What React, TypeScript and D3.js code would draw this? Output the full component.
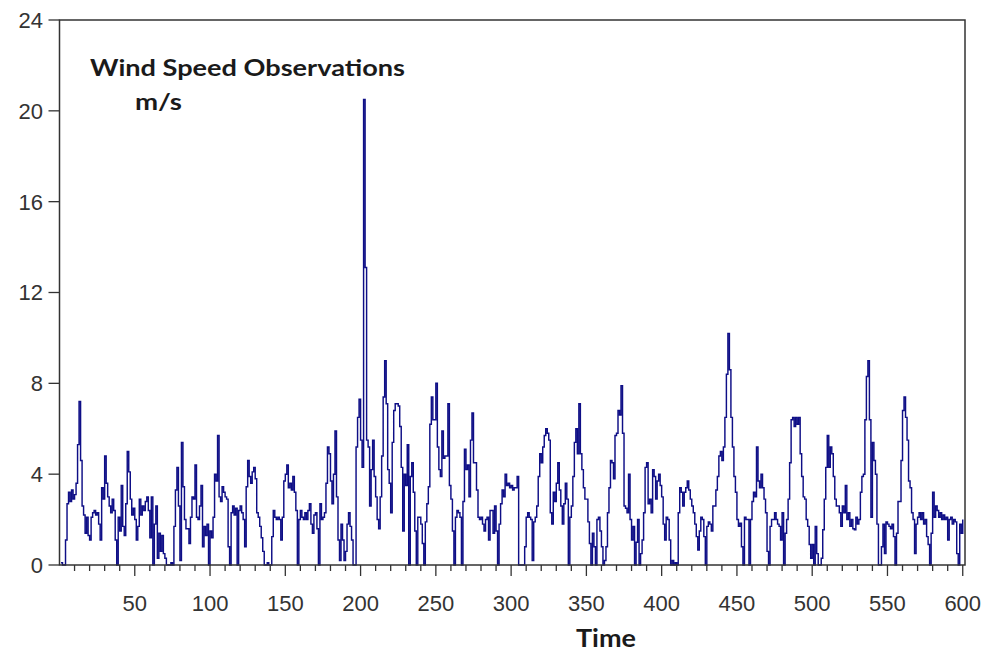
import React from "react";
import * as d3 from "d3";

const speed1: number[] = [
  0.1, 0.0, 0.0, 1.1, 2.7, 3.2, 2.8, 3.3, 2.9, 3.1,
  3.6, 5.3, 7.2, 4.6, 2.6, 2.2, 1.4, 2.1, 1.3, 1.1,
  2.1, 2.3, 2.4, 2.2, 2.3, 1.8, 1.1, 3.4, 2.9, 4.8,
  3.6, 3.0, 2.6, 2.3, 2.9, 2.4, 1.1, 0.0, 2.1, 1.5,
  3.5, 1.7, 1.3, 2.7, 5.0, 4.1, 2.9, 2.2, 2.5, 2.0,
  1.1, 1.7, 2.9, 2.2, 2.6, 2.4, 2.8, 3.0, 2.4, 1.2,
  3.0, 0.0, 1.8, 2.6, 0.3, 1.4, 0.6, 1.3, 0.5, 0.3,
  0.0, 0.0, 0.0, 0.1, 0.0, 1.7, 3.3, 4.3, 2.6, 0.2,
  5.4, 3.45, 2.0, 1.6, 1.6, 0.95, 2.1, 3.0, 2.9, 4.4,
  2.1, 2.0, 2.6, 3.5, 0.8, 1.7, 1.3, 1.8, 0.0, 1.5,
];
const speed2: number[] = [
  1.2, 2.1, 4.0, 3.7, 5.7, 3.0, 2.8, 3.45, 3.2, 3.0,
  2.9, 0.8, 0.0, 2.3, 2.6, 2.2, 2.5, 0.0, 2.4, 2.6,
  2.3, 2.0, 0.8, 3.45, 4.6, 3.9, 3.6, 4.1, 4.3, 3.8,
  2.3, 2.1, 1.7, 1.2, 0.6, 0.0, 0.0, 0.1, 0.0, 0.0,
  1.25, 2.4, 2.1, 2.0, 2.1, 2.0, 1.1, 2.1, 3.7, 4.0,
  4.4, 3.4, 3.6, 3.3, 3.9, 3.2, 2.4, 0.0, 2.0, 2.4,
  2.1, 2.0, 2.3, 2.0, 2.4, 2.7, 1.8, 1.4, 2.2, 2.3,
  1.6, 0.0, 2.7, 2.0, 2.1, 2.3, 3.6, 5.2, 4.9, 3.7,
  2.7, 4.0, 5.9, 3.0, 1.1, 0.2, 1.8, 1.1, 0.2, 0.6,
  1.8, 2.3, 1.7, 1.1, 0.0, 0.0, 5.2, 6.5, 7.3, 5.5,
];
const speed3: number[] = [
  4.3, 20.5, 13.1, 5.5, 5.2, 2.6, 4.2, 5.5, 3.9, 3.0,
  2.0, 1.6, 3.0, 4.8, 7.4, 9.0, 7.1, 4.2, 3.6, 2.3,
  5.4, 6.8, 7.1, 7.1, 7.0, 6.1, 4.3, 1.5, 4.0, 3.5,
  5.3, 0.0, 3.9, 4.5, 3.2, 1.5, 0.0, 2.1, 2.1, 1.8,
  0.95, 0.0, 1.9, 2.7, 3.45, 6.2, 7.4, 6.4, 6.4, 8.0,
  5.2, 4.2, 3.9, 5.9, 4.7, 4.8, 4.8, 7.1, 3.5, 2.9,
  1.5, 0.0, 2.1, 2.4, 2.3, 2.1, 0.0, 2.8, 5.1, 4.2,
  4.4, 3.0, 5.5, 6.7, 4.5, 4.5, 3.3, 2.1, 2.0, 2.1,
  1.8, 1.5, 2.0, 2.1, 1.1, 2.4, 2.4, 1.4, 2.6, 1.5,
  0.0, 1.8, 2.7, 3.3, 3.0, 4.0, 3.5, 3.6, 3.4, 3.5,
];
const speed4: number[] = [
  3.3, 3.4, 3.4, 3.9, 0.0, 0.0, 0.0, 0.0, 0.8, 2.1,
  2.3, 2.1, 2.0, 0.2, 1.9, 2.1, 2.6, 3.9, 4.9, 4.5,
  5.2, 5.7, 6.0, 5.8, 5.5, 2.3, 1.8, 3.2, 2.8, 3.6,
  4.5, 3.3, 2.6, 1.8, 2.7, 3.6, 2.9, 0.0, 2.1, 2.6,
  3.9, 5.4, 6.0, 4.9, 7.1, 4.9, 4.2, 3.4, 2.9, 2.9,
  1.9, 0.95, 0.0, 1.4, 0.8, 0.0, 2.0, 2.1, 1.5, 0.8,
  0.0, 0.2, 0.8, 2.3, 3.4, 4.6, 4.5, 3.8, 5.7, 5.8,
  6.8, 6.6, 7.9, 5.8, 2.6, 2.5, 2.3, 4.0, 2.0, 1.1,
  1.7, 0.0, 1.0, 2.0, 0.0, 0.5, 1.1, 2.3, 4.3, 4.5,
  2.7, 2.9, 2.3, 4.2, 3.9, 2.9, 3.7, 4.0, 3.5, 3.0,
];
const speed5: number[] = [
  1.8, 1.1, 2.1, 2.0, 1.1, 0.0, 0.2, 0.0, 0.1, 0.0,
  2.3, 3.4, 3.2, 2.6, 3.2, 3.4, 3.7, 3.3, 2.9, 2.6,
  2.3, 1.8, 1.25, 0.66, 1.5, 2.1, 2.0, 1.25, 0.0, 1.7,
  1.9, 1.8, 1.5, 2.6, 2.6, 3.3, 3.9, 4.8, 5.0, 4.6,
  5.2, 6.5, 8.4, 10.2, 8.6, 6.5, 5.2, 3.9, 3.2, 2.0,
  1.7, 1.84, 0.8, 0.0, 2.1, 2.0, 2.0, 0.0, 2.0, 2.8,
  3.2, 3.0, 5.2, 3.7, 3.4, 4.0, 3.4, 2.9, 2.3, 0.6,
  0.0, 1.7, 2.0, 2.0, 2.3, 2.0, 1.8, 1.7, 1.1, 2.3,
  0.0, 1.4, 2.0, 2.9, 4.5, 6.4, 6.5, 6.1, 6.5, 6.2,
  6.5, 4.9, 3.9, 3.0, 2.9, 2.0, 1.7, 0.9, 0.3, 0.9,
];
const speed6: number[] = [
  0.0, 1.7, 0.5, 0.0, 0.0, 0.3, 1.55, 2.9, 4.3, 5.7,
  4.3, 5.2, 4.9, 3.9, 2.9, 2.6, 2.6, 2.3, 1.7, 2.6,
  2.3, 3.5, 2.0, 2.3, 1.7, 2.0, 1.6, 1.55, 2.1, 1.8,
  2.0, 3.2, 3.9, 4.0, 6.4, 8.3, 9.0, 6.4, 2.1, 5.4,
  4.6, 4.0, 1.8, 0.0, 0.0, 0.8, 1.8, 0.5, 1.9, 1.8,
  1.7, 1.6, 1.8, 1.25, 0.0, 1.4, 2.8, 2.8, 4.6, 6.8,
  7.4, 6.5, 5.5, 3.7, 3.4, 2.3, 2.0, 0.5, 1.8, 2.1,
  2.3, 2.0, 2.3, 1.8, 2.0, 1.25, 0.9, 0.0, 1.4, 3.2,
  2.1, 2.6, 2.4, 2.1, 2.3, 2.0, 2.2, 2.0, 2.1, 1.1,
  2.0, 2.1, 1.8, 2.0, 1.9, 0.5, 0.0, 1.8, 1.4, 2.0,
];

const yTicks: number[] = [0, 4, 8, 12, 16, 20, 24];
const xTicks: number[] = [50, 100, 150, 200, 250, 300, 350, 400, 450, 500, 550, 600];
const xMinorTicks: number[] = d3.range(10, 601, 10);

const titleLine1 = "Wind Speed Observations";
const titleLine2 = "m/s";
const xTitle = "Time";

export default function App() {
  const speeds = [...speed1, ...speed2, ...speed3, ...speed4, ...speed5, ...speed6];
  const data = speeds.map((v, i) => ({ t: i + 1, v }));

  const W = 987, H = 654;
  const left = 59.5, right = 965, top = 20, bottom = 565;
  const x = d3.scaleLinear().domain([0, 601.5]).range([left, right]);
  const y = d3.scaleLinear().domain([0, 24]).range([bottom, top]);

  const line = d3
    .line<{ t: number; v: number }>()
    .x((d) => x(d.t))
    .y((d) => y(d.v))
    .curve(d3.curveStepAfter);

  const tickFont = "'Liberation Sans', Arial, sans-serif";
  const axisColor = "#333";
  const titleFont = "Lato, 'Open Sans', sans-serif";

  return (
    <svg
      width={W}
      height={H}
      style={{ position: "absolute", left: 0, top: 0, background: "#fff" }}
    >
      <rect x={0} y={0} width={W} height={H} fill="#fff" />
      <path d={line(data) || ""} fill="none" stroke="#0e0e86" strokeWidth={1.45} />
      <rect
        x={left}
        y={top}
        width={right - left}
        height={bottom - top}
        fill="none"
        stroke={axisColor}
        strokeWidth={1.5}
      />
      {yTicks.map((t) => (
        <g key={"y" + t}>
          <line x1={left - 11} x2={left} y1={y(t)} y2={y(t)} stroke={axisColor} strokeWidth={1.3} />
          <text
            x={43}
            y={y(t)}
            dy="0.36em"
            textAnchor="end"
            fontFamily={tickFont}
            fontSize={22}
            fill="#333"
          >
            {t}
          </text>
        </g>
      ))}
      {xMinorTicks.map((t) => (
        <line
          key={"m" + t}
          x1={x(t)}
          x2={x(t)}
          y1={bottom}
          y2={bottom + (t % 50 === 0 ? 11 : 6)}
          stroke={axisColor}
          strokeWidth={1.3}
        />
      ))}
      {xTicks.map((t) => (
        <text
          key={"x" + t}
          x={x(t)}
          y={611}
          textAnchor="middle"
          fontFamily={tickFont}
          fontSize={22}
          fill="#333"
        >
          {t}
        </text>
      ))}
      <text
        x={90}
        y={76}
        fontFamily={titleFont}
        fontWeight="bold"
        fontSize={23}
        fill="#1a1a1a"
        textLength={315}
        lengthAdjust="spacingAndGlyphs"
      >
        {titleLine1}
      </text>
      <text
        x={135}
        y={110}
        fontFamily={titleFont}
        fontWeight="bold"
        fontSize={23}
        fill="#1a1a1a"
        textLength={47}
        lengthAdjust="spacingAndGlyphs"
      >
        {titleLine2}
      </text>
      <text
        x={606}
        y={647}
        textAnchor="middle"
        fontFamily={titleFont}
        fontWeight="bold"
        fontSize={24}
        fill="#1a1a1a"
        textLength={60}
        lengthAdjust="spacingAndGlyphs"
      >
        {xTitle}
      </text>
    </svg>
  );
}
